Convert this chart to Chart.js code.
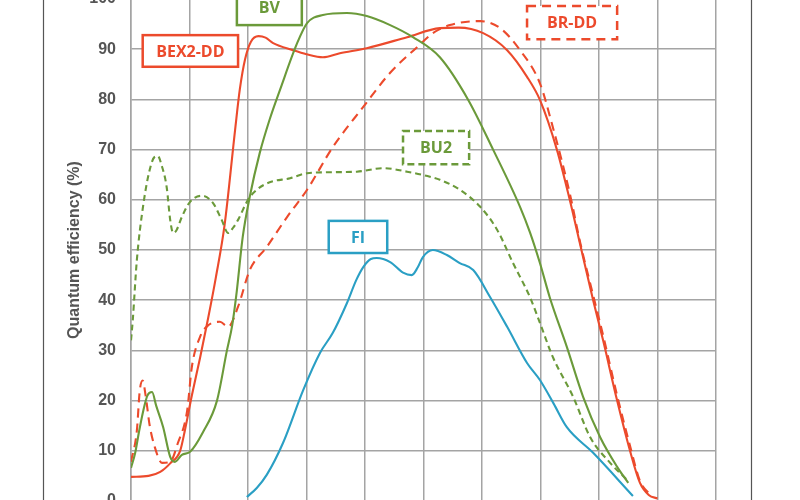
<!DOCTYPE html>
<html>
<head>
<meta charset="utf-8">
<script src="https://cdn.jsdelivr.net/npm/chart.js@4"></script>
<style>
  html, body { margin: 0; padding: 0; background: #fff; overflow: hidden; width: 800px; height: 500px; }
  #wrap { position: absolute; left: 0; top: -30px; width: 800px; height: 560px; }
</style>
</head>
<body>
<div id="wrap"><canvas id="qeChart" width="800" height="560"></canvas></div>
<script>
// wavelength (nm) / quantum efficiency (%)
const bexWl = [200, 230, 250, 267, 284, 292, 304, 318, 332, 345, 360, 378, 386, 395, 405, 418, 430, 443, 477, 500, 528, 557, 603, 672, 728, 760, 802, 843, 877, 899, 928, 950, 968, 990, 1007, 1031, 1053, 1070, 1085, 1100];
const bexQe = [4.8, 5.0, 5.8, 7.5, 10, 14, 21, 28.5, 36.5, 44.5, 55, 74, 82, 88, 91.5, 92.6, 92.3, 91.2, 89.8, 89, 88.4, 89.2, 90.2, 92.4, 94.2, 94.3, 93.2, 89.8, 84.5, 79.9, 70, 60, 51, 40, 32, 20, 10, 3.6, 1.2, 0.5];

const brWl = [200, 210, 215, 220, 225, 232, 240, 253, 267, 280, 296, 304, 318, 332, 352, 366, 383, 403, 432, 467, 501, 545, 597, 643, 689, 716, 745, 797, 831, 865, 899, 921, 950, 968, 990, 1007, 1031, 1053, 1070, 1090];
const brQe = [7.8, 14, 22, 24, 21, 15, 11, 7.6, 7.8, 11.5, 18, 26.7, 32.7, 35, 35.7, 34.7, 38.7, 46, 50.6, 56.6, 62, 70.5, 78.5, 85.3, 90.4, 93.2, 94.8, 95.6, 94.2, 89.8, 83.2, 74.5, 61.3, 51.4, 41, 33, 21, 11, 4, 1];

const bvWl = [200, 207, 214, 221, 228, 236, 243, 255, 267, 275, 287, 301, 323, 347, 364, 373, 380, 391, 403, 420, 437, 455, 484, 501, 528, 569, 603, 643, 682, 728, 776, 819, 865, 882, 899, 916, 945, 973, 1002, 1031, 1050];
const bvQe = [6.6, 9.5, 14, 18, 21, 21.7, 19, 14.7, 8.8, 7.8, 9.2, 9.8, 13.7, 20, 30, 35, 41, 52.6, 60.6, 69.3, 76, 82, 91.2, 95.2, 96.8, 97.2, 96.6, 94.8, 92.4, 88.4, 80, 70, 58.6, 53.5, 47.4, 40.5, 30.7, 20.7, 12.7, 6.8, 3.6];

const buWl = [200, 203, 210, 221, 232, 240, 246, 252, 261, 267, 272, 278, 287, 301, 321, 340, 355, 366, 375, 383, 400, 415, 437, 472, 501, 545, 586, 631, 672, 711, 728, 762, 797, 826, 853, 882, 899, 921, 956, 985, 1019, 1048];
const buQe = [32, 36, 48, 59, 66, 68.5, 68.7, 67, 62.5, 56, 53.4, 54, 56.6, 59.6, 60.8, 59.4, 56, 53.4, 54.5, 56, 60, 62, 63.5, 64.3, 65.3, 65.5, 65.6, 66.3, 65.6, 64.6, 64, 62, 58.6, 54, 47.4, 40.6, 35.5, 28.7, 20.7, 12.7, 7.6, 4.2];

const fiWl = [398, 415, 432, 460, 494, 523, 545, 569, 585, 597, 610, 620, 643, 665, 680, 690, 699, 716, 740, 762, 785, 814, 843, 877, 899, 922, 945, 990, 1058];
const fiQe = [0.8, 2.6, 5.2, 11.6, 22, 29.5, 33.5, 39.4, 44, 46.6, 48.2, 48.4, 47.6, 45.5, 45, 46.5, 48.6, 50, 49, 47.4, 46, 40.6, 34.7, 27.5, 24.1, 19.5, 14.7, 9.6, 1];

const yTicks = [0, 10, 20, 30, 40, 50, 60, 70, 80, 90, 100];

const RED = '#ec4a2c';
const GREEN = '#6b9a3a';
const TEAL = '#2a9fc4';

// label boxes, in data coordinates
const boxes = [
    { text: 'BEX2-DD', x0: 220, x1: 383, y0: 86.5, y1: 92.8, color: RED, dash: [] },
    { text: 'BV', x0: 381, x1: 492, y0: 94.8, y1: 102, color: GREEN, dash: [] },
    { text: 'BR-DD', x0: 877, x1: 1031, y0: 92.0, y1: 98.6, color: RED, dash: [9, 6] },
    { text: 'BU2', x0: 665, x1: 778, y0: 67.1, y1: 73.7, color: GREEN, dash: [7, 4] },
    { text: 'FI', x0: 538, x1: 638, y0: 49.4, y1: 55.8, color: TEAL, dash: [] },
];

function pts(wl, qe) {
    return wl.map((w, i) => ({ x: w, y: qe[i] }));
}

function series(label, wl, qe, color, dash) {
    return {
        label: label,
        data: pts(wl, qe),
        borderColor: color,
        backgroundColor: color,
        borderWidth: 2.1,
        borderDash: dash,
        showLine: true,
        pointRadius: 0,
        cubicInterpolationMode: 'monotone',
        fill: false,
    };
}

const boxPlugin = {
    id: 'boxes',
    afterDatasetsDraw(chart) {
        const { ctx, scales: { x, y } } = chart;
        ctx.save();
        boxes.forEach(b => {
            const l = x.getPixelForValue(b.x0), r = x.getPixelForValue(b.x1);
            const t = y.getPixelForValue(b.y1), btm = y.getPixelForValue(b.y0);
            ctx.fillStyle = '#fff';
            ctx.fillRect(l, t, r - l, btm - t);
            ctx.setLineDash(b.dash);
            ctx.lineWidth = 2.5;
            ctx.strokeStyle = b.color;
            ctx.strokeRect(l, t, r - l, btm - t);
            ctx.setLineDash([]);
            ctx.fillStyle = b.color;
            ctx.font = 'bold 16px "Open Sans"';
            ctx.textAlign = 'center';
            ctx.textBaseline = 'middle';
            ctx.fillText(b.text, (l + r) / 2, (t + btm) / 2 + 1);
        });
        ctx.restore();
    },
    afterDraw(chart) {
        // outer frame of the figure
        const ctx = chart.ctx;
        ctx.save();
        ctx.strokeStyle = '#555';
        ctx.lineWidth = 1.2;
        [43.5, 751.5].forEach(px => {
            ctx.beginPath();
            ctx.moveTo(px, 0);
            ctx.lineTo(px, chart.height);
            ctx.stroke();
        });
        ctx.restore();
    },
};

new Chart(document.getElementById('qeChart'), {
    type: 'scatter',
    data: {
        datasets: [
            series('FI', fiWl, fiQe, TEAL, []),
            series('BU2', buWl, buQe, GREEN, [6, 4]),
            series('BV', bvWl, bvQe, GREEN, []),
            series('BR-DD', brWl, brQe, RED, [9, 6]),
            series('BEX2-DD', bexWl, bexQe, RED, []),
        ],
    },
    options: {
        responsive: false,
        animation: false,
        devicePixelRatio: 1,
        layout: { padding: { left: 63, right: 84, top: 29, bottom: 0 } },
        plugins: { legend: { display: false }, tooltip: { enabled: false } },
        scales: {
            x: {
                type: 'linear',
                min: 200,
                max: 1200,
                afterFit: s => { s.height = 29; },
                grid: { color: '#a4a4a4', lineWidth: 1.5, drawTicks: false },
                border: { color: '#a4a4a4', width: 1.5 },
                ticks: { stepSize: 100, color: '#555', font: { size: 15, weight: 'bold' } },
            },
            y: {
                min: 0,
                max: 100,
                afterFit: s => { s.width = 68; },
                afterBuildTicks: s => { s.ticks = yTicks.map(v => ({ value: v })); },
                grid: { color: '#a4a4a4', lineWidth: 1.5, drawTicks: false },
                border: { color: '#a4a4a4', width: 1.5 },
                ticks: { padding: 15, color: '#555', font: { family: 'Liberation Sans', size: 16, weight: 'bold' } },
                title: {
                    display: true,
                    text: 'Quantum efficiency (%)',
                    color: '#555',
                    padding: { top: 2, bottom: 2 },
                    font: { family: 'Liberation Sans', size: 16, weight: 'bold' },
                },
            },
        },
    },
    plugins: [boxPlugin],
});
</script>
</body>
</html>
